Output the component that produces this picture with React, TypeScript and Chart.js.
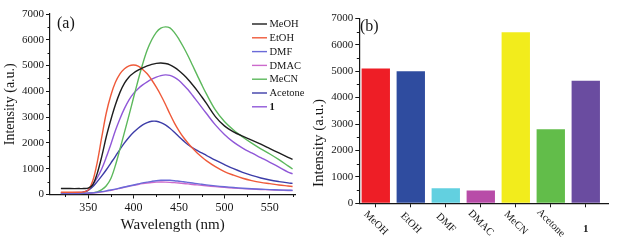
import React, { useEffect, useRef } from 'react';
import { Chart, registerables } from 'chart.js';

Chart.register(...registerables);

const FONT = '"Liberation Serif", "Times New Roman", serif';
const INK = '#161616';

// ---------- panel (a): emission spectra ----------
const wavelengths = [320, 330, 340, 345, 350, 355, 360, 365, 370, 375, 380, 385, 390, 395, 400, 405, 410, 415, 420, 425, 430, 435, 440, 445, 450, 455, 460, 465, 470, 475, 480, 490, 500, 510, 520, 530, 540, 550, 560, 570, 575];

const meoh = [235, 230, 230, 230, 245, 370, 820, 1480, 2250, 2900, 3480, 3960, 4320, 4560, 4710, 4820, 4910, 4985, 5045, 5085, 5100, 5080, 5030, 4930, 4800, 4640, 4460, 4250, 4030, 3790, 3540, 3020, 2660, 2430, 2260, 2110, 1950, 1780, 1610, 1440, 1360];
const etoh = [90, 90, 90, 100, 170, 520, 1250, 2230, 3170, 3850, 4350, 4680, 4880, 4990, 5020, 4980, 4850, 4680, 4440, 4160, 3850, 3500, 3120, 2770, 2470, 2210, 1990, 1790, 1610, 1455, 1315, 1080, 890, 750, 630, 540, 470, 420, 370, 330, 310];
const dmf = [50, 50, 50, 50, 55, 65, 85, 110, 140, 175, 210, 250, 290, 330, 370, 410, 450, 480, 510, 535, 550, 555, 550, 535, 515, 495, 470, 445, 420, 395, 375, 335, 300, 270, 245, 225, 205, 190, 175, 165, 160];
const dmac = [40, 40, 40, 42, 48, 58, 75, 100, 130, 165, 200, 240, 280, 320, 355, 390, 420, 445, 465, 478, 482, 480, 472, 460, 445, 428, 410, 390, 372, 355, 340, 305, 275, 250, 228, 210, 195, 180, 168, 158, 155];
const mecn = [50, 50, 50, 50, 55, 70, 100, 190, 340, 620, 1130, 1760, 2420, 3080, 3760, 4430, 5060, 5600, 6000, 6290, 6450, 6500, 6460, 6280, 6020, 5710, 5370, 5000, 4630, 4260, 3910, 3280, 2830, 2500, 2230, 1990, 1770, 1570, 1350, 1110, 990];
const acetone = [60, 60, 65, 90, 160, 300, 500, 720, 960, 1220, 1480, 1750, 2000, 2220, 2410, 2570, 2700, 2790, 2840, 2840, 2790, 2700, 2570, 2410, 2240, 2080, 1930, 1810, 1710, 1610, 1520, 1330, 1160, 1000, 860, 740, 640, 560, 500, 450, 430];
const compound1 = [70, 70, 75, 90, 170, 380, 650, 1000, 1450, 1950, 2480, 2940, 3340, 3670, 3920, 4100, 4250, 4370, 4470, 4550, 4610, 4640, 4620, 4540, 4420, 4250, 4060, 3840, 3610, 3380, 3150, 2700, 2330, 2030, 1800, 1610, 1430, 1250, 1060, 870, 800];

const seriesNames = ['MeOH', 'EtOH', 'DMF', 'DMAC', 'MeCN', 'Acetone', '1'];
const seriesValues = [meoh, etoh, dmf, dmac, mecn, acetone, compound1];
const lineColors = ['#1e1e1e', '#ef5a3a', '#6a6ad8', '#cc6acc', '#5cb85c', '#3d3da8', '#9058d8'];

const xMinorA = [325, 375, 425, 475, 525, 575];
const yMinor = [500, 1500, 2500, 3500, 4500, 5500, 6500];

// ---------- panel (b): intensity bars ----------
const barCategories = ['MeOH', 'EtOH', 'DMF', 'DMAC', 'MeCN', 'Acetone', '1'];
const barValues = [5100, 5000, 570, 480, 6470, 2800, 4640];
const barColors = ['#ee1e26', '#2f4c9f', '#62d0e0', '#b84ca8', '#f2ec1c', '#62bd4a', '#6a4ca0'];

const minorTicksPlugin = (xVals: number[], yVals: number[], len: number) => ({
  id: 'minorTicks',
  afterDraw(chart: any) {
    const { ctx } = chart;
    const x = chart.scales.x;
    const y = chart.scales.y;
    ctx.save();
    ctx.strokeStyle = INK;
    ctx.lineWidth = 1;
    ctx.beginPath();
    xVals.forEach((v) => {
      const px = Math.round(x.getPixelForValue(v)) + 0.5;
      ctx.moveTo(px, chart.chartArea.bottom);
      ctx.lineTo(px, chart.chartArea.bottom + len);
    });
    yVals.forEach((v) => {
      const py = Math.round(y.getPixelForValue(v)) + 0.5;
      ctx.moveTo(chart.chartArea.left, py);
      ctx.lineTo(chart.chartArea.left - len, py);
    });
    ctx.stroke();
    ctx.restore();
  },
});

const axisCommon = {
  grid: { drawOnChartArea: false, drawTicks: true, tickLength: 4, tickColor: INK, tickWidth: 1, offset: false },
  border: { display: true, color: INK, width: 1.2 },
};

function SpectraChart() {
  const ref = useRef<HTMLCanvasElement>(null);
  useEffect(() => {
    if (!ref.current) return;
    const legendPlugin = {
      id: 'legendA',
      afterDraw(chart: any) {
        const { ctx } = chart;
        ctx.save();
        ctx.textBaseline = 'middle';
        ctx.textAlign = 'left';
        seriesNames.forEach((name, i) => {
          const y = 24 + i * 13.8;
          ctx.strokeStyle = lineColors[i];
          ctx.lineWidth = 1.4;
          ctx.beginPath();
          ctx.moveTo(252, y);
          ctx.lineTo(267, y);
          ctx.stroke();
          ctx.fillStyle = INK;
          ctx.font = (name === '1' ? 'bold ' : '') + '10.5px ' + FONT;
          ctx.fillText(name, 269.5, y + 0.5);
        });
        ctx.font = '16px ' + FONT;
        ctx.textBaseline = 'alphabetic';
        ctx.fillText('(a)', 57, 28);
        ctx.restore();
      },
    };
    const chart = new Chart(ref.current, {
      type: 'line',
      data: {
        datasets: seriesValues.map((vals, i) => ({
          label: seriesNames[i],
          data: wavelengths.map((w, j) => ({ x: w, y: vals[j] })),
          borderColor: lineColors[i],
          backgroundColor: lineColors[i],
          borderWidth: 1.4,
          pointRadius: 0,
          fill: false,
          tension: 0.35,
        })),
      },
      options: {
        responsive: false,
        animation: false,
        layout: { padding: { left: 0, top: 14, right: 14.7, bottom: 0 } },
        plugins: { legend: { display: false }, tooltip: { enabled: false } },
        scales: {
          x: {
            type: 'linear',
            min: 308,
            max: 578,
            afterFit: (s: any) => { s.height = 48.5; },
            ticks: {
              stepSize: 50, includeBounds: false, autoSkip: false, maxRotation: 0,
              font: { family: FONT, size: 12 }, color: INK, padding: 2,
              callback: (v: any) => String(v),
            },
            ...axisCommon,
            title: {
              display: true, text: 'Wavelength (nm)', color: INK,
              font: { family: FONT, size: 15 }, padding: { top: 0, bottom: 9 },
            },
          },
          y: {
            min: 0,
            max: 7000,
            afterFit: (s: any) => { s.width = 50; },
            ticks: {
              stepSize: 1000, font: { family: FONT, size: 11 }, color: INK, padding: 2,
              callback: (v: any) => String(v),
            },
            ...axisCommon,
            title: {
              display: true, text: 'Intensity (a.u.)', color: INK,
              font: { family: FONT, size: 14 }, padding: { top: 2, bottom: 0 },
            },
          },
        },
      } as any,
      plugins: [minorTicksPlugin(xMinorA, yMinor, 2.5), legendPlugin],
    });
    return () => chart.destroy();
  }, []);
  return <canvas ref={ref} width={310} height={243} style={{ position: 'absolute', left: 0, top: 0 }} />;
}

function BarsChart() {
  const ref = useRef<HTMLCanvasElement>(null);
  useEffect(() => {
    if (!ref.current) return;
    const labelsPlugin = {
      id: 'labelsB',
      afterDraw(chart: any) {
        const { ctx } = chart;
        const x = chart.scales.x;
        ctx.save();
        ctx.fillStyle = INK;
        barCategories.forEach((name, i) => {
          const px = x.getPixelForValue(i + 1);
          ctx.save();
          if (name === '1') {
            ctx.font = 'bold 11px ' + FONT;
            ctx.textAlign = 'center';
            ctx.textBaseline = 'middle';
            ctx.fillText(name, px, 229);
          } else {
            ctx.font = '10.5px ' + FONT;
            ctx.translate(px, 223);
            ctx.rotate(Math.PI / 4);
            ctx.textAlign = 'center';
            ctx.textBaseline = 'middle';
            ctx.fillText(name, 0, 0);
          }
          ctx.restore();
        });
        // y-axis title
        ctx.save();
        ctx.font = '15px ' + FONT;
        ctx.translate(9, 143);
        ctx.rotate(-Math.PI / 2);
        ctx.textAlign = 'center';
        ctx.textBaseline = 'middle';
        ctx.fillText('Intensity (a.u.)', 0, 0);
        ctx.restore();
        ctx.font = '16px ' + FONT;
        ctx.textBaseline = 'alphabetic';
        ctx.textAlign = 'left';
        ctx.fillText('(b)', 50, 31);
        ctx.restore();
      },
    };
    const chart = new Chart(ref.current, {
      type: 'bar',
      data: {
        datasets: [{
          data: barValues.map((v, i) => ({ x: i + 1, y: v })),
          backgroundColor: barColors,
          borderWidth: 0,
          categoryPercentage: 1,
          barPercentage: 0.81,
        }],
      },
      options: {
        responsive: false,
        animation: false,
        layout: { padding: { left: 0, top: 18.3, right: 10, bottom: 0 } },
        plugins: { legend: { display: false }, tooltip: { enabled: false } },
        scales: {
          x: {
            type: 'linear',
            min: 0.529,
            max: 7.635,
            offset: false,
            afterFit: (s: any) => { s.height = 39.7; },
            ticks: { display: false, stepSize: 1, includeBounds: false, autoSkip: false },
            ...axisCommon,
          },
          y: {
            min: 0,
            max: 7000,
            afterFit: (s: any) => { s.width = 49.3; },
            ticks: {
              stepSize: 1000, font: { family: FONT, size: 11 }, color: INK, padding: 2,
              callback: (v: any) => String(v),
            },
            ...axisCommon,
          },
        },
      } as any,
      plugins: [minorTicksPlugin([], yMinor, 2.5), labelsPlugin],
    });
    return () => chart.destroy();
  }, []);
  return <canvas ref={ref} width={308} height={243} style={{ position: 'absolute', left: 310, top: 0 }} />;
}

export default function App() {
  return (
    <div style={{ position: 'absolute', left: 0, top: 0, width: 618, height: 243, background: '#ffffff', overflow: 'hidden' }}>
      <SpectraChart />
      <BarsChart />
    </div>
  );
}
